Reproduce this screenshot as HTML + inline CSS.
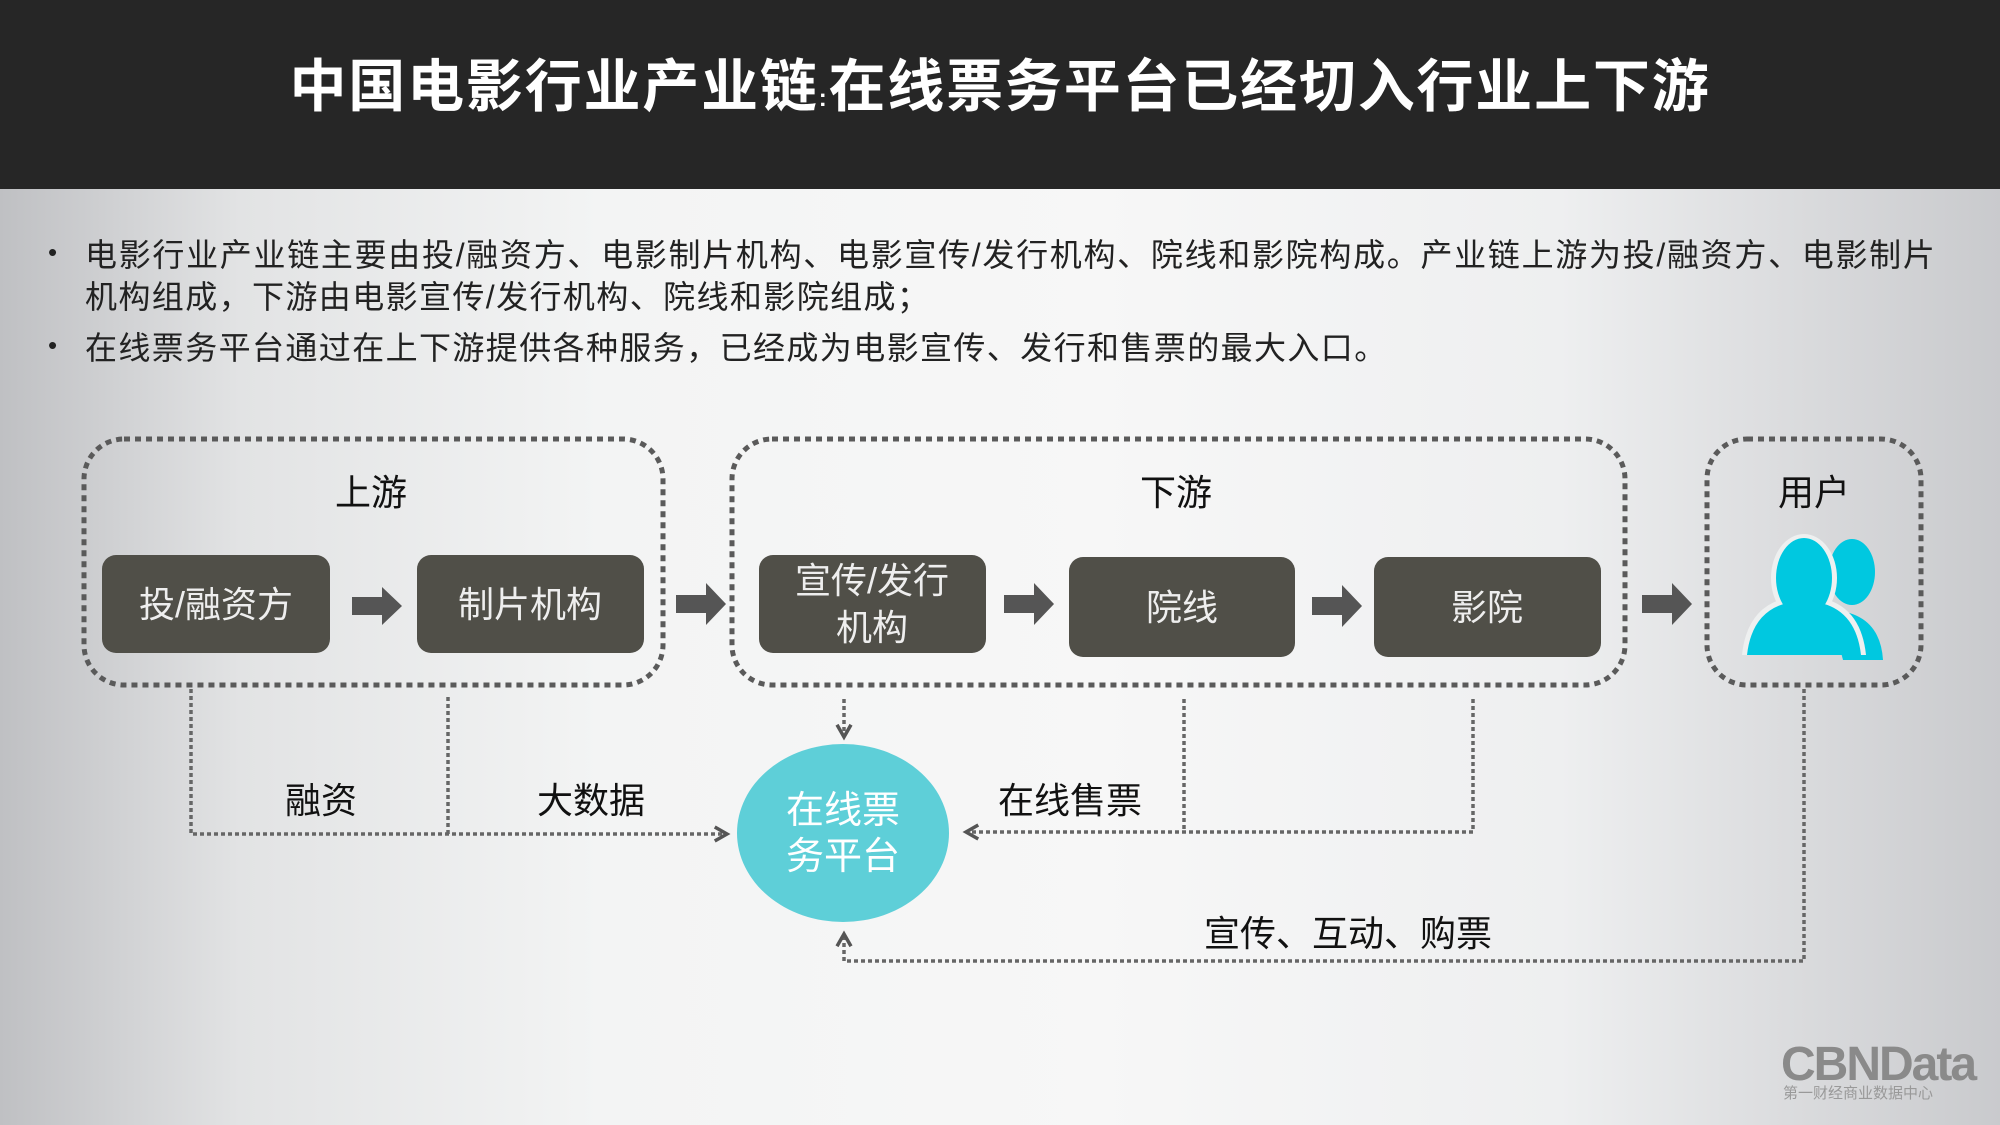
<!DOCTYPE html>
<html><head><meta charset="utf-8"><style>
html,body{margin:0;padding:0;}
body{width:2000px;height:1125px;overflow:hidden;position:relative;font-family:"Liberation Sans","Noto Sans CJK SC",sans-serif;
background:linear-gradient(90deg,#bfc0c3 0%,#e2e3e4 12%,#f3f4f4 30%,#f7f7f7 55%,#eeeff0 78%,#c9cacd 100%);}
.hdr{position:absolute;left:0;top:0;width:2000px;height:189px;background:#262626;}
.title{position:absolute;left:0;width:2000px;top:52px;text-align:center;color:#fff;font-weight:bold;font-size:57px;line-height:70px;white-space:nowrap;letter-spacing:1.8px;}
.title small{font-size:24px;}
.b{position:absolute;left:85px;font-size:32px;color:#222;white-space:nowrap;line-height:40px;letter-spacing:1.4px;}
.dot{position:absolute;left:48px;font-size:26px;color:#222;}
</style></head><body>
<div class="hdr"></div>
<div class="title">中国电影行业产业链<small>:</small>在线票务平台已经切入行业上下游</div>
<div class="dot" style="top:237px">•</div>
<div class="b" style="top:235px;letter-spacing:1.7px">电影行业产业链主要由投/融资方、电影制片机构、电影宣传/发行机构、院线和影院构成。产业链上游为投/融资方、电影制片</div>
<div class="b" style="top:277px">机构组成，下游由电影宣传/发行机构、院线和影院组成；</div>
<div class="dot" style="top:330px">•</div>
<div class="b" style="top:328px">在线票务平台通过在上下游提供各种服务，已经成为电影宣传、发行和售票的最大入口。</div>
<svg width="2000" height="1125" style="position:absolute;left:0;top:0" font-family="Liberation Sans, Noto Sans CJK SC, sans-serif">
<defs>
<marker id="ah" viewBox="0 0 10 10" refX="8" refY="5" markerWidth="5" markerHeight="5" orient="auto"><path d="M1,1 L8,5 L1,9" fill="none" stroke="#555" stroke-width="2"/></marker>
</defs>
<g fill="none" stroke="#5a5a5a" stroke-width="5" stroke-dasharray="6 5">
<rect x="84" y="439" width="579" height="246" rx="40"/>
<rect x="732" y="439" width="893" height="246" rx="40"/>
<rect x="1707" y="439" width="214" height="246" rx="40"/>
</g>
<g font-size="36" fill="#111" text-anchor="middle">
<text x="371" y="505">上游</text><text x="1176" y="505">下游</text><text x="1814" y="505">用户</text>
</g>
<g fill="#504f48">
<rect x="102" y="555" width="228" height="98" rx="14"/>
<rect x="417" y="555" width="227" height="98" rx="14"/>
<rect x="759" y="555" width="227" height="98" rx="14"/>
<rect x="1069" y="557" width="226" height="100" rx="14"/>
<rect x="1374" y="557" width="227" height="100" rx="14"/>
</g>
<g font-size="36" fill="#eee" text-anchor="middle">
<text x="216" y="617">投/融资方</text>
<text x="530" y="617">制片机构</text>
<text x="872" y="593">宣传/发行</text>
<text x="872" y="640">机构</text>
<text x="1182" y="620">院线</text>
<text x="1487" y="620">影院</text>
</g>
<g fill="#555">
<path d="M352,597 h30 v-10 l20,19 l-20,19 v-10 h-30z"/>
<path d="M676,595 h30 v-12 l20,21 l-20,21 v-12 h-30z"/>
<path d="M1004,595 h30 v-12 l20,21 l-20,21 v-12 h-30z"/>
<path d="M1312,597 h30 v-12 l20,21 l-20,21 v-12 h-30z"/>
<path d="M1642,595 h30 v-12 l20,21 l-20,21 v-12 h-30z"/>
</g>
<!-- back person -->
<g fill="#00c8e0">
<ellipse cx="1852" cy="572" rx="23" ry="33"/>
<path d="M1830,610 q50,2 53,50 h-40z"/>
</g>
<!-- separation around front person -->
<g fill="#eef0f0">
<ellipse cx="1804" cy="578" rx="33" ry="44"/>
<path d="M1742,655 q6,-58 62,-59 q56,1 62,59z"/>
</g>
<g fill="#00c8e0">
<ellipse cx="1804" cy="578" rx="28" ry="40"/>
<path d="M1747,655 q6,-53 57,-54 q51,1 57,54z"/>
</g>
<ellipse cx="843" cy="833" rx="106" ry="89" fill="#5ecfd8"/>
<g font-size="38" fill="#fff" text-anchor="middle"><text x="843" y="823">在线票</text><text x="843" y="869">务平台</text></g>
<g fill="none" stroke="#666" stroke-width="3.5" stroke-dasharray="4 3">
<path d="M191,689 V834 H727" marker-end="url(#ah)"/>
<path d="M448,697 V834"/>
<path d="M844,699 V737" marker-end="url(#ah)"/>
<path d="M1473,699 V832 H966" marker-end="url(#ah)"/>
<path d="M1184,699 V832"/>
<path d="M1804,689 V961 H844 V934" marker-end="url(#ah)"/>
</g>
<g font-size="36" fill="#111" text-anchor="middle">
<text x="321" y="813">融资</text><text x="591" y="813">大数据</text>
<text x="1070" y="813">在线售票</text><text x="1348" y="946">宣传、互动、购票</text>
</g>
<text x="1878" y="1080" font-size="48" font-weight="bold" fill="#8a8a8a" text-anchor="middle" letter-spacing="-2">CBNData</text>
<text x="1858" y="1098" font-size="15" fill="#999" text-anchor="middle">第一财经商业数据中心</text>
</svg>
</body></html>
